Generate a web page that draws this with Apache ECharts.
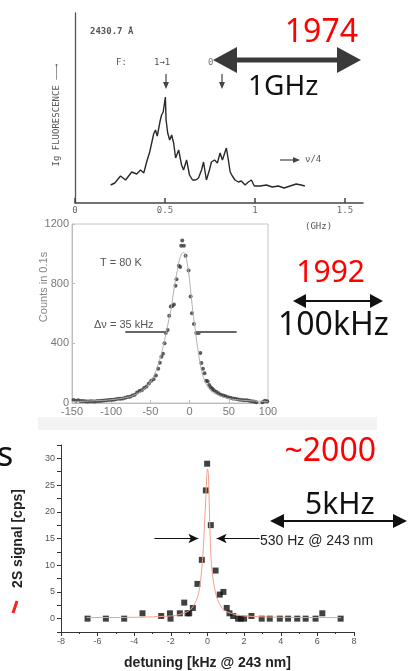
<!DOCTYPE html>
<html>
<head>
<meta charset="utf-8">
<script src="https://cdn.jsdelivr.net/npm/echarts@6/dist/echarts.min.js"></script>
<style>
  html, body { margin: 0; padding: 0; background: #fff; }
  #chart { width: 412px; height: 671px; }
</style>
</head>
<body>
<div id="chart"></div>
<script>
// 1974: fluorescence trace (GHz, arbitrary height)
var trace74Freq = [0.198, 0.221, 0.253, 0.281, 0.315, 0.343, 0.364, 0.382, 0.398, 0.415, 0.426, 0.437,
  0.447, 0.457, 0.474, 0.481, 0.49, 0.502, 0.506, 0.515, 0.526, 0.537, 0.548, 0.559, 0.576, 0.592,
  0.603, 0.62, 0.636, 0.653, 0.67, 0.686, 0.703, 0.714, 0.73, 0.747, 0.758, 0.775, 0.791, 0.806,
  0.819, 0.841, 0.852, 0.862, 0.874, 0.889, 0.908, 0.924, 0.945, 0.963, 0.98, 0.996, 1.029, 1.063,
  1.096, 1.129, 1.162, 1.195, 1.229, 1.24, 1.256, 1.277];
var trace74Signal = [18, 20, 27, 23, 31, 29, 33, 30, 41, 51, 60, 69,
  73, 67, 83, 88, 91, 106, 83, 70, 63, 68, 60, 45, 53, 38,
  33, 43, 28, 23, 23, 25, 33, 41, 23, 33, 41, 43, 40, 50,
  43, 55, 43, 31, 27, 23, 21, 22, 18, 21, 23, 17, 17, 18,
  16, 17, 15, 17, 19, 20, 18, 17];

// 1992: counts in 0.1 s vs detuning (kHz)
var dots92X = [-148, -145, -142, -139, -136, -133, -130, -127, -124, -121, -118, -115, -112, -109, -106,
  -103, -100, -97, -94, -91, -88, -85, -82, -79, -76, -73, -70, -67, -64, -61, -58, -55, -52, -49,
  -46, -43, -40, -38, -36, -34, -32, -30.4, -28, -26, -24, -22, -20, -18, -16.7, -13.7, -12, -10.7,
  -9.4, -7.3, -5.1, -1.3, 1.3, 3, 5.5, 8.6, 11.6, 13.7, 15, 17, 19, 21, 23, 25, 27, 29, 31, 34, 37,
  40, 43, 46, 49, 52, 55, 58, 61, 64, 67, 70, 73, 76, 79, 82, 85, 88, 90, 93, 96, 99];
var dots92Y = [20, 15, 18, 13, 14, 12, 10, 12, 12, 10, 13, 14, 15, 16, 18,
  20, 22, 22, 25, 28, 28, 30, 35, 40, 42, 50, 55, 70, 80, 85, 100, 110, 130, 150,
  160, 185, 230, 270, 310, 330, 400, 469, 490, 585, 647, 650, 660, 786, 830, 920, 911, 1054,
  1090, 1054, 987, 888, 714, 602, 530, 469, 469, 335, 268, 230, 200, 150, 145, 120, 105, 95, 85, 75, 65,
  55, 50, 45, 38, 35, 30, 28, 25, 22, 20, 18, 18, 15, 12, 10, 5, -5, -8, 5, 15, 12];
var fit92X = [-150, -120, -100, -80, -70, -60, -55, -50, -45, -40, -36, -32, -28, -24, -20, -16, -13,
  -10, -8, -5, -2, 0, 2, 4, 6, 8, 10, 13, 16, 20, 25, 30, 40, 50, 60, 80, 100];
var fit92Y = [10, 15, 22, 38, 55, 85, 110, 140, 190, 260, 330, 420, 520, 620, 760, 880, 960,
  1000, 1010, 985, 900, 820, 720, 620, 540, 460, 380, 280, 200, 140, 95, 70, 45, 30, 22, 14, 10];
var width92Y = 480;
var width92Left = [-82, -30];
var width92Right = [60, 8];

// ~2000: 2S signal (cps) vs detuning (kHz @ 243 nm)
var pts00X = [-6.55, -5.55, -4.55, -3.55, -2.53, -2.05, -2.02, -1.51, -1.27, -1.09, -1.0, -0.8, -0.55,
  -0.31, -0.09, -0.02, 0.18, 0.44, 0.67, 0.87, 1.05, 1.2, 1.4, 1.67, 1.82, 2.0, 2.4, 2.96, 3.4, 3.95,
  4.4, 4.9, 5.36, 5.9, 6.27, 7.27];
var pts00Y = [0, 0, 0, 1, 0.5, 1, 0, 1, 3, 1, 1, 2, 6.5,
  11, 24, 29, 17.5, 9, 4.5, 5, 2, 1, 0.5, 0, 0, 0, 0.5, 0, 0, 0,
  0, 0, 0, 0, 1, 0];
var fit00X = [-6.6, -4, -2, -1.5, -1, -0.75, -0.5, -0.35, -0.25, -0.2, -0.1, 0, 0.05, 0.13, 0.2,
  0.3, 0.5, 0.75, 1, 1.5, 2, 4, 7.3];
var fit00Y = [0.2, 0.25, 0.5, 0.8, 1.5, 2.5, 4.5, 8, 12, 15, 22, 28, 27, 17, 11,
  7.5, 4, 2.2, 1.4, 0.8, 0.5, 0.25, 0.2];
var width00Y = 15;
var width00Left = [-2.9, -0.5];
var width00Right = [2.85, 0.5];

function zip(a, b) {
  return a.map(function (v, i) { return [v, b[i]]; });
}

var chart = echarts.init(document.getElementById("chart"));

var gray = "#777";
var txt = function (text, x, y, font, color, align, vAlign, rot) {
  return {
    type: "text", x: x, y: y, rotation: rot || 0, z: 100,
    style: {
      text: text, font: font, fill: color,
      align: align || "left", textAlign: align || "left",
      verticalAlign: vAlign || "middle", textVerticalAlign: vAlign || "middle"
    }
  };
};
var line = function (x1, y1, x2, y2, color, w) {
  return { type: "line", z: 100, shape: { x1: x1, y1: y1, x2: x2, y2: y2 }, style: { stroke: color, lineWidth: w } };
};
var tri = function (pts, color) {
  return { type: "polygon", z: 100, shape: { points: pts }, style: { fill: color } };
};

chart.setOption({
  animation: false,
  grid: [
    { left: 75, top: 13, width: 288, height: 190 },
    { left: 72, top: 224, width: 196, height: 179, show: true, borderColor: "#c4c4c4", borderWidth: 1 },
    { left: 61, top: 445, width: 293, height: 192 }
  ],
  xAxis: [
    {
      gridIndex: 0, type: "value", min: 0, max: 1.6,
      axisLine: { onZero: false, lineStyle: { color: "#444", width: 1.5 } },
      axisTick: { inside: true, length: 5, customValues: [0, 0.5, 1, 1.5], lineStyle: { color: "#444", width: 1.5 } },
      axisLabel: { customValues: [0, 0.5, 1, 1.5], color: "#666", fontSize: 9, margin: 3, fontFamily: "DejaVu Sans Mono" },
      splitLine: { show: false }
    },
    {
      gridIndex: 1, type: "value", min: -150, max: 100, interval: 50,
      axisLine: { onZero: false, lineStyle: { color: "#bbb" } },
      axisTick: { inside: true, length: 3, lineStyle: { color: "#bbb" } },
      axisLabel: { color: gray, fontSize: 11, margin: 3, fontFamily: "Liberation Sans" },
      splitLine: { show: false }
    },
    {
      gridIndex: 2, type: "value", min: -8, max: 8, interval: 2,
      axisLine: { onZero: false, lineStyle: { color: "#333" } },
      axisTick: { length: 4, lineStyle: { color: "#333" } },
      minorTick: { show: true, splitNumber: 2, length: 2, lineStyle: { color: "#333" } },
      axisLabel: { color: "#555", fontSize: 9, margin: 5, fontFamily: "Liberation Sans" },
      splitLine: { show: false },
      name: "detuning [kHz @ 243 nm]", nameLocation: "middle", nameGap: 24,
      nameTextStyle: { fontSize: 14, fontWeight: "bold", color: "#222", fontFamily: "Liberation Sans" }
    }
  ],
  yAxis: [
    {
      gridIndex: 0, type: "value", min: 0, max: 190,
      axisLine: { show: true, onZero: false, lineStyle: { color: "#555", width: 1.3 } },
      axisTick: { show: false }, axisLabel: { show: false }, splitLine: { show: false }
    },
    {
      gridIndex: 1, type: "value", min: 0, max: 1200, interval: 400,
      axisLine: { show: true, onZero: false, lineStyle: { color: "#bbb" } },
      axisTick: { show: true, inside: true, length: 3, lineStyle: { color: "#bbb" } },
      axisLabel: {
        color: gray, fontSize: 11, margin: 3, fontFamily: "Liberation Sans",
        formatter: function (v) { return String(v); }
      },
      splitLine: { show: false }
    },
    {
      gridIndex: 2, type: "value", min: -2.5, max: 32.5, interval: 2.5,
      axisLine: { show: true, onZero: false, lineStyle: { color: "#333" } },
      axisTick: { show: true, length: 4, lineStyle: { color: "#333" } },
      axisLabel: {
        color: "#555", fontSize: 9, margin: 6, fontFamily: "Liberation Sans",
        formatter: function (v) { return v % 5 === 0 ? String(v) : ""; }
      },
      splitLine: { show: false },
      name: "2S signal [cps]", nameLocation: "middle", nameGap: 36,
      nameTextStyle: { fontSize: 14, fontWeight: "bold", color: "#222", fontFamily: "Liberation Sans" }
    }
  ],
  series: [
    {
      name: "1974", type: "line", xAxisIndex: 0, yAxisIndex: 0,
      data: zip(trace74Freq, trace74Signal), showSymbol: false,
      lineStyle: { color: "#2a2a2a", width: 1.4 }
    },
    {
      name: "1992 fit", type: "line", xAxisIndex: 1, yAxisIndex: 1, smooth: true,
      data: zip(fit92X, fit92Y), showSymbol: false,
      lineStyle: { color: "#b0b0b0", width: 1 },
      markLine: {
        silent: true, symbol: "none", label: { show: false },
        lineStyle: { color: "#666", width: 2, type: "solid" },
        data: [
          [{ coord: [width92Left[0], width92Y] }, { coord: [width92Left[1], width92Y] }],
          [{ coord: [width92Right[0], width92Y] }, { coord: [width92Right[1], width92Y] }]
        ]
      }
    },
    {
      name: "1992 data", type: "scatter", xAxisIndex: 1, yAxisIndex: 1,
      data: zip(dots92X, dots92Y), symbolSize: 4,
      itemStyle: { color: "#333" }
    },
    {
      name: "2000 fit", type: "line", xAxisIndex: 2, yAxisIndex: 2, smooth: 0.3,
      data: zip(fit00X, fit00Y), showSymbol: false,
      lineStyle: { color: "#f0a08c", width: 1 },
      markLine: {
        silent: true, symbol: ["none", "arrow"], symbolSize: [7, 10], label: { show: false },
        lineStyle: { color: "#111", width: 1.2, type: "solid" },
        data: [
          [{ coord: [width00Left[0], width00Y] }, { coord: [width00Left[1], width00Y] }],
          [{ coord: [width00Right[0], width00Y] }, { coord: [width00Right[1], width00Y] }]
        ]
      }
    },
    {
      name: "2000 data", type: "scatter", xAxisIndex: 2, yAxisIndex: 2,
      data: zip(pts00X, pts00Y), symbol: "rect", symbolSize: 6,
      itemStyle: { color: "#111" }
    }
  ],
  graphic: [
    // faint strip under the 1992 plot
    { type: "rect", z: -1, shape: { x: 38, y: 417, width: 339, height: 13 }, style: { fill: "#f3f3f3" } },
    // 1974 panel labels
    txt("2430.7 Å", 90, 32, "bold 9px DejaVu Sans Mono", "#555"),
    txt("F:", 116, 63, "9px DejaVu Sans Mono", "#555"),
    txt("1→1", 154, 63, "9px DejaVu Sans Mono", "#555"),
    txt("0", 208, 63, "9px DejaVu Sans Mono", "#777"),
    line(166, 74, 166, 84, "#444", 1.2), tri([[166, 89], [163, 82], [169, 82]], "#444"),
    line(222, 74, 222, 84, "#444", 1.2), tri([[222, 89], [219, 82], [225, 82]], "#444"),
    line(280, 160, 294, 160, "#444", 1.2), tri([[300, 160], [293, 157], [293, 163]], "#444"),
    txt("ν/4", 305, 160, "9px DejaVu Sans Mono", "#555"),
    txt("Ig FLUORESCENCE ——→", 57, 115, "9px DejaVu Sans Mono", "#555", "center", "middle", Math.PI / 2),
    txt("(GHz)", 305, 227, "9px DejaVu Sans Mono", "#555"),
    txt("1974", 358, 33, "32px Noto Sans", "#ff0000", "right"),
    line(228, 60, 346, 60, "#3a3a3a", 5),
    tri([[213, 60], [237, 47], [237, 73]], "#3a3a3a"),
    tri([[361, 60], [337, 47], [337, 73]], "#3a3a3a"),
    txt("1GHz", 248, 87, "28px Noto Sans", "#111"),
    // 1992 panel labels
    txt("Counts in 0.1s", 44, 287, "11px Liberation Sans", "#888", "center", "middle", Math.PI / 2),
    txt("T = 80 K", 100, 263, "11px Liberation Sans", "#555"),
    txt("Δν = 35 kHz", 94, 325, "11px Liberation Sans", "#555"),
    txt("1992", 365, 273, "30px Noto Sans", "#ff0000", "right"),
    line(302, 301, 374, 301, "#111", 2),
    tri([[293, 301], [306, 294], [306, 308]], "#111"),
    tri([[383, 301], [370, 294], [370, 308]], "#111"),
    txt("100kHz", 278, 326, "32px Noto Sans", "#111"),
    // ~2000 panel labels
    txt("~2000", 376, 452, "32px Noto Sans", "#ff0000", "right"),
    txt("5kHz", 305, 505, "30px Noto Sans", "#111"),
    line(280, 521, 397, 521, "#111", 2),
    tri([[270, 521], [284, 514], [284, 528]], "#111"),
    tri([[407, 521], [393, 514], [393, 528]], "#111"),
    txt("530 Hz @ 243 nm", 260, 541, "14px Liberation Sans", "#222"),
    // cut-off slide fragments on the left edge
    txt("s", -3, 456, "34px Noto Sans", "#111"),
    line(17, 601, 13, 613, "#ff2020", 3)
  ]
});
</script>
</body>
</html>
